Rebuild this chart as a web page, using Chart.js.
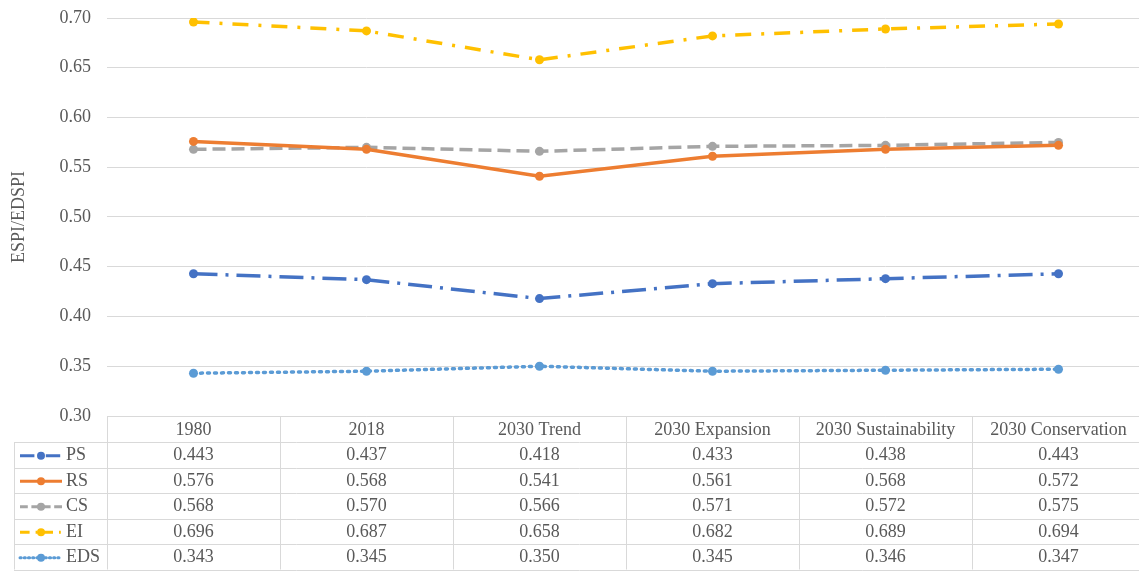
<!DOCTYPE html>
<html><head><meta charset="utf-8">
<script src="https://cdn.jsdelivr.net/npm/chart.js@4/dist/chart.umd.min.js"></script>
<style>html,body{margin:0;padding:0;background:#fff;overflow:hidden}#wrap{width:1145px;height:571px}</style>
</head><body><div id="wrap"><canvas id="c" width="1145" height="571"></canvas></div>
<script>
const categories = ["1980","2018","2030 Trend","2030 Expansion","2030 Sustainability","2030 Conservation"];
const PS  = [0.443,0.437,0.418,0.433,0.438,0.443];
const RS  = [0.576,0.568,0.541,0.561,0.568,0.572];
const CS  = [0.568,0.570,0.566,0.571,0.572,0.575];
const EI  = [0.696,0.687,0.658,0.682,0.689,0.694];
const EDS = [0.343,0.345,0.350,0.345,0.346,0.347];
const yTicks = [0.30,0.35,0.40,0.45,0.50,0.55,0.60,0.65,0.70];

const FONT = "'Liberation Serif','Times New Roman',serif";
const styles = [
  {label:"PS", data:PS, color:"#4472C4", dash:[24,8,3,8]},
  {label:"RS", data:RS, color:"#ED7D31", dash:[]},
  {label:"CS", data:CS, color:"#A5A5A5", dash:[13,6]},
  {label:"EI", data:EI, color:"#FFC000", dash:[16,10,3,10]},
  {label:"EDS", data:EDS, color:"#5B9BD5", dash:[2,5]}
];

const tablePlugin = {
  id:'dataTable',
  afterDraw(chart){
    const ctx = chart.ctx, xs = chart.scales.x, ca = chart.chartArea;
    const top = ca.bottom, rowH = 25.5, headH = 26, legL = 14;
    const n = categories.length;
    const bounds = [ca.left];
    for(let i=0;i<n-1;i++) bounds.push((xs.getPixelForValue(i)+xs.getPixelForValue(i+1))/2);
    bounds.push(ca.right);
    const bottom = top + headH + rowH*styles.length;
    ctx.save();
    ctx.strokeStyle = "#D9D9D9"; ctx.lineWidth = 1;
    ctx.beginPath();
    ctx.moveTo(ca.left, top+0.5); ctx.lineTo(ca.right, top+0.5);
    for(let r=0;r<=styles.length;r++){
      const y = Math.round(top+headH+r*rowH)+0.5;
      ctx.moveTo(legL, y); ctx.lineTo(ca.right, y);
    }
    bounds.forEach(b=>{ const x=Math.round(b)+0.5; ctx.moveTo(x, top); ctx.lineTo(x, bottom); });
    ctx.moveTo(legL+0.5, top+headH); ctx.lineTo(legL+0.5, bottom);
    ctx.stroke();
    ctx.fillStyle = "#595959"; ctx.font = "18px "+FONT;
    ctx.textAlign = "center"; ctx.textBaseline = "middle";
    categories.forEach((c,i)=>{
      ctx.fillText(c, xs.getPixelForValue(i), top+headH/2+1);
    });
    styles.forEach((s,r)=>{
      const cy = top+headH+r*rowH+rowH/2+1;
      ctx.textAlign = "center";
      s.data.forEach((v,i)=>ctx.fillText(v.toFixed(3), xs.getPixelForValue(i), cy));
      ctx.save();
      ctx.strokeStyle = s.color; ctx.fillStyle = s.color; ctx.lineWidth = 3;
      ctx.setLineDash(s.dash.length? s.dash.map(d=>d*0.6):[]);
      if(s.label==="EDS") ctx.lineCap="round";
      ctx.beginPath(); ctx.moveTo(20, cy); ctx.lineTo(62, cy); ctx.stroke();
      ctx.setLineDash([]);
      ctx.beginPath(); ctx.arc(41, cy, 4, 0, Math.PI*2); ctx.fill();
      ctx.restore();
      ctx.textAlign = "left"; ctx.fillStyle = "#595959";
      ctx.fillText(s.label, 66, cy);
    });
    ctx.restore();
  }
};

new Chart(document.getElementById('c'), {
  type:'line',
  data:{
    labels:categories,
    datasets: styles.map(s=>({
      label:s.label, data:s.data, borderColor:s.color, backgroundColor:s.color,
      borderWidth:3.5, borderDash:s.dash, borderCapStyle: s.label==="EDS"?'round':'butt',
      pointRadius:4.5, pointBackgroundColor:s.color, pointBorderColor:s.color, pointBorderWidth:0,
      tension:0, fill:false
    }))
  },
  options:{
    responsive:false, animation:false, devicePixelRatio:1,
    layout:{autoPadding:false, padding:{top:18,right:0,bottom:155,left:0}},
    plugins:{legend:{display:false}, tooltip:{enabled:false}},
    scales:{
      x:{type:'category', offset:true, display:false},
      y:{
        min:0.30, max:0.70,
        afterBuildTicks(scale){ scale.ticks = yTicks.map(v=>({value:v})); },
        afterFit(scale){ scale.width = 107; scale.paddingTop = 0; scale.paddingBottom = 0; },
        border:{display:false},
        grid:{color:"#D9D9D9", lineWidth:1, drawTicks:false},
        ticks:{padding:16, color:"#595959", font:{family:FONT,size:18}, callback:v=>Number(v).toFixed(2)},
        title:{display:true, text:"ESPI/EDSPI", color:"#595959", font:{family:FONT,size:18}, padding:{top:8,bottom:0}}
      }
    }
  },
  plugins:[tablePlugin]
});
</script></body></html>
